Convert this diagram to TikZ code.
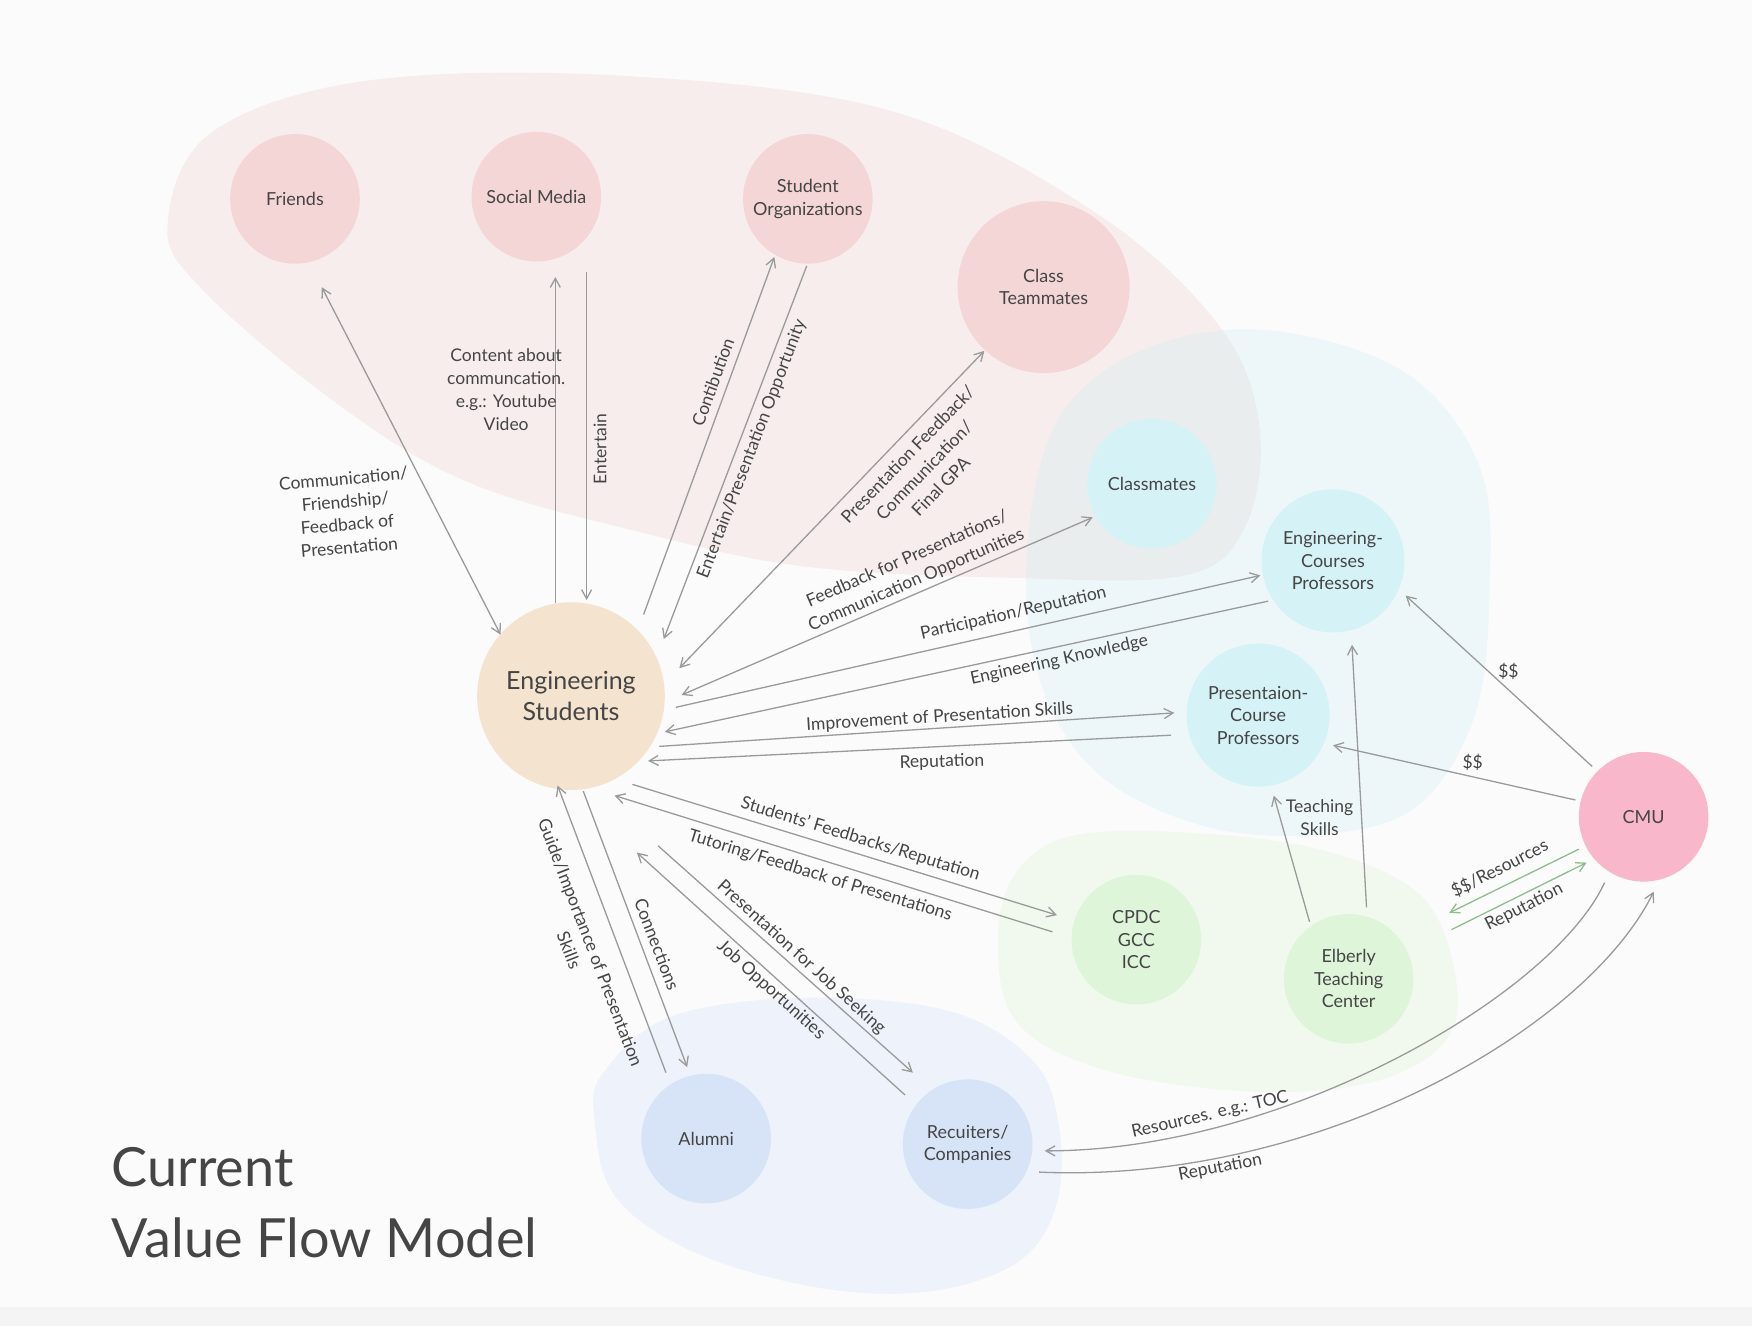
\documentclass[tikz,border=0pt]{standalone}
\usepackage{fontspec}
\setmainfont{Lato}
\usetikzlibrary{arrows.meta,calc}
\definecolor{bgc}{HTML}{FBFBFB}
\definecolor{stripc}{HTML}{F4F4F4}
\definecolor{txt}{HTML}{454545}
\definecolor{arrc}{HTML}{9A9A9A}
\definecolor{garr}{HTML}{8DBE8B}
\definecolor{pinkn}{HTML}{F5D6D6}
\definecolor{esn}{HTML}{F4E4CF}
\definecolor{bluen}{HTML}{D5F2F6}
\definecolor{cmun}{HTML}{F8B7CB}
\definecolor{greenn}{HTML}{DFF5DA}
\definecolor{lavn}{HTML}{D7E4F7}
\definecolor{pinkb}{HTML}{F2C9C9}
\definecolor{blueb}{HTML}{C9EEF4}
\definecolor{greenb}{HTML}{F1F9EE}
\definecolor{lavb}{HTML}{EDF2FB}
\begin{document}
\begin{tikzpicture}[x=1.1173pt,y=-1.1173pt,
  circ/.style={circle,draw=none,text=txt,align=center,inner sep=0pt,font=\fontsize{18}{22.5}\selectfont},
  nsmall/.style={circ,minimum size=129.6pt},
  nmid/.style={circ,minimum size=143pt},
  lab/.style={text=txt,align=center,inner sep=0pt,font=\fontsize{17.5}{23}\selectfont},
  flow/.style={draw=arrc,line width=1.3pt,-{Straight Barb[length=9pt,width=10pt]}},
  flowb/.style={draw=arrc,line width=1.3pt,{Straight Barb[length=9pt,width=10pt]}-{Straight Barb[length=9pt,width=10pt]}},
  gflow/.style={draw=garr,line width=1.3pt,-{Straight Barb[length=9pt,width=10pt]}}]
% background
\fill[bgc] (0,0) rectangle (1568,1187);
\fill[stripc] (0,1170) rectangle (1568,1187);
% blobs
\fill[pinkb,opacity=0.28] plot[smooth cycle,tension=0.6] coordinates {(150,200) (190,118) (330,72) (560,68) (800,100) (980,190) (1090,290) (1127,380) (1115,470) (1060,515) (900,517) (720,507) (580,478) (420,432) (300,360) (180,258)};
\fill[blueb,opacity=0.28] plot[smooth cycle,tension=0.6] coordinates {(1140,296) (1260,335) (1325,420) (1333,530) (1320,640) (1270,720) (1190,746) (1080,740) (980,690) (928,600) (920,480) (950,370) (1030,310)};
\fill[greenb] plot[smooth cycle,tension=0.6] coordinates {(893,840) (910,780) (960,748) (1060,745) (1180,760) (1270,800) (1302,870) (1295,930) (1230,968) (1120,977) (990,958) (910,915)};
\fill[lavb] plot[smooth cycle,tension=0.6] coordinates {(540,960) (600,910) (720,893) (850,905) (925,950) (948,1010) (945,1080) (910,1130) (830,1156) (730,1152) (620,1120) (550,1070) (532,1000)};
% nodes
\node[nsmall,fill=pinkn] (fr) at (264,178) {Friends};
\node[nsmall,fill=pinkn] (sm) at (480,176) {Social Media};
\node[nsmall,fill=pinkn] (so) at (723,178) {Student\\Organizations};
\node[circ,fill=pinkn,minimum size=172pt] (ct) at (934,257) {Class\\Teammates};
\node[nsmall,fill=bluen] (cm) at (1031,433) {Classmates};
\node[nmid,fill=bluen] (ecp) at (1193,502) {Engineering-\\Courses\\Professors};
\node[nmid,fill=bluen] (pcp) at (1126,640) {Presentaion-\\Course\\Professors};
\node[circ,fill=esn,minimum size=187.7pt,font=\fontsize{25}{31}\selectfont] (es) at (511,623) {Engineering\\Students};
\node[nsmall,fill=cmun] (cmu) at (1471,731) {CMU};
\node[nsmall,fill=greenn] (cpdc) at (1017,841) {CPDC\\GCC\\ICC};
\node[nsmall,fill=greenn] (etc) at (1207,876) {Elberly\\Teaching\\Center};
\node[nsmall,fill=lavn] (al) at (632,1019) {Alumni};
\node[nsmall,fill=lavn] (rc) at (866,1024) {Recuiters/\\Companies};
% title
\node[anchor=base west,inner sep=0pt,text=txt,font=\fontsize{54}{60}\selectfont] (t1) at (100,1062) {Current};
\node[anchor=base west,inner sep=0pt,text=txt,font=\fontsize{54}{60}\selectfont] (t2) at (100,1125) {Value Flow Model};
% connectors
\draw[flowb] ($(fr)+(24,79)$) -- ($(es)+(-63,-55)$);
\draw[flow] ($(es)+(-14,-83)$) -- ($(sm)+(17,72)$);
\draw[flow] ($(sm)+(45,67)$) -- ($(es)+(14,-86)$);
\draw[flow] ($(es)+(65,-73)$) -- ($(so)+(-30,52)$);
\draw[flow] ($(so)+(-1,60)$) -- ($(es)+(83,-51)$);
\draw[flowb] ($(es)+(97,-25)$) -- ($(ct)+(-53,57)$);
\draw[flowb] ($(es)+(99,-1)$) -- ($(cm)+(-53,30)$);
\draw[flow] ($(es)+(94,10)$) -- ($(ecp)+(-65,13)$);
\draw[flow] ($(ecp)+(-58,36)$) -- ($(es)+(84,32)$);
\draw[flow] ($(es)+(79,45)$) -- ($(pcp)+(-75,-2)$);
\draw[flow] ($(pcp)+(-78,18)$) -- ($(es)+(69,58)$);
\draw[flow] ($(es)+(55,79)$) -- ($(cpdc)+(-71,-22)$);
\draw[flow] ($(cpdc)+(-75,-7)$) -- ($(es)+(39,89)$);
\draw[flow] ($(al)+(-36,-59)$) -- ($(es)+(-12,80)$);
\draw[flow] ($(es)+(11,85)$) -- ($(al)+(-17,-64)$);
\draw[flow] ($(rc)+(-56,-44)$) -- ($(es)+(59,140)$);
\draw[flow] ($(es)+(78,134)$) -- ($(rc)+(-49,-64)$);
\draw[flow] ($(cmu)+(-46,-45)$) -- ($(ecp)+(65,31)$);
\draw[flow] ($(cmu)+(-61,-15)$) -- ($(pcp)+(67,27)$);
\draw[flow] ($(etc)+(-35,-51)$) -- ($(pcp)+(14,72)$);
\draw[flow] ($(etc)+(16,-64)$) -- ($(ecp)+(17,75)$);
\draw[gflow] ($(cmu)+(-58,29)$) -- ($(etc)+(90,-59)$);
\draw[gflow] ($(etc)+(92,-44)$) -- ($(cmu)+(-51,41)$);
\draw[flow] ($(cmu)+(-35,59)$) .. controls (1390,890) and (1150,1030) .. ($(rc)+(69,6)$);
\draw[flow] ($(rc)+(64,25)$) .. controls (1180,1060) and (1420,920) .. ($(cmu)+(9,67)$);
% labels
\node[lab,rotate=5] (l1) at (310,459) {Communication/\\Friendship/\\Feedback of\\Presentation};
\node[lab] (l2) at (453,349) {Content about\\communcation.\\e.g.: Youtube\\Video};
\node[lab,rotate=90] (l3) at (537,402) {Entertain};
\node[lab,rotate=70] (l4) at (638,342) {Contibution};
\node[lab,rotate=69] (l5) at (673,402) {Entertain/Presentation Opportunity};
\node[lab,rotate=46] (l6) at (827,421) {Presentation Feedback/\\Communication/\\Final GPA};
\node[lab,rotate=23.5] (l7) at (816,510) {Feedback for Presentations/\\Communication Opportunities};
\node[lab,rotate=12.7] (l8) at (907,549) {Participation/Reputation};
\node[lab,rotate=12.5] (l9) at (948,591) {Engineering Knowledge};
\node[lab,rotate=3.5] (l10) at (841,642) {Improvement of Presentation Skills};
\node[lab,rotate=1.5] (l11) at (843,682) {Reputation};
\node[lab,rotate=-17] (l12) at (770,751) {Students’ Feedbacks/Reputation};
\node[lab,rotate=-17] (l13) at (734,784) {Tutoring/Feedback of Presentations};
\node[lab,rotate=-69] (l14) at (519,847) {Guide/Importance of Presentation\\Skills};
\node[lab,rotate=-69] (l15) at (588,845) {Connections};
\node[lab,rotate=-42] (l16) at (690,886) {Job Opportunities};
\node[lab,rotate=-42] (l17) at (717,857) {Presentation for Job Seeking};
\node[lab] (l18) at (1350,601) {\$\$};
\node[lab] (l19) at (1318,682) {\$\$};
\node[lab] (l20) at (1181,732) {Teaching\\Skills};
\node[lab,rotate=27] (l21) at (1342,777) {\$\$/Resources};
\node[lab,rotate=27] (l22) at (1364,812) {Reputation};
\node[lab,rotate=13] (l23) at (1083,998) {Resources. e.g.: TOC};
\node[lab,rotate=11] (l24) at (1092,1045) {Reputation};
\end{tikzpicture}
\end{document}
